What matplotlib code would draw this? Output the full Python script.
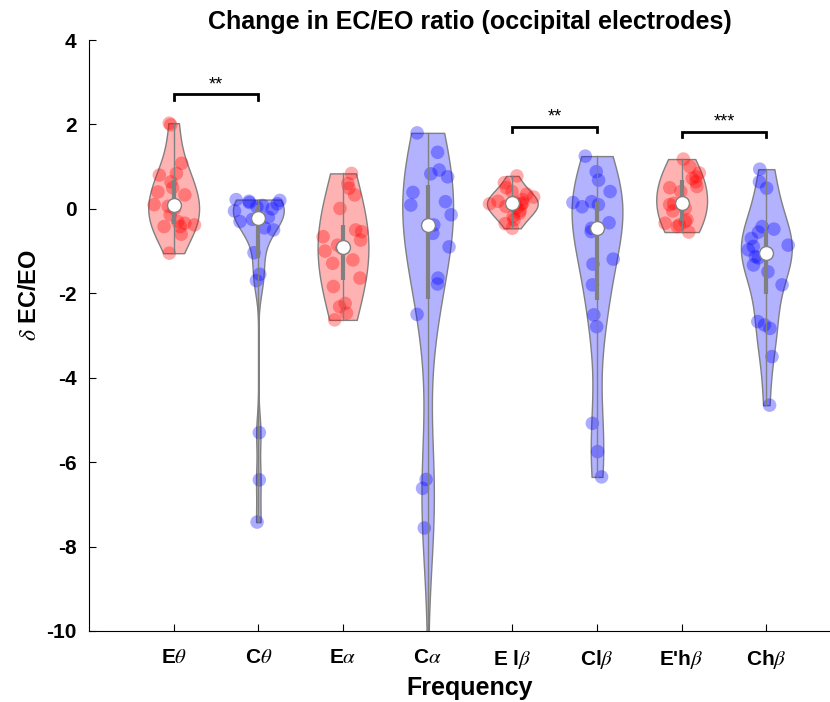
import numpy as np
import matplotlib
matplotlib.use("Agg")
import matplotlib.pyplot as plt

plt.rcParams['font.family'] = ['Liberation Sans', 'DejaVu Sans']
plt.rcParams['mathtext.fontset'] = 'stix'

# ---- data ----
labels = ["E$\\theta$", "C$\\theta$", "E$\\alpha$", "C$\\alpha$",
          "E l$\\beta$", "Cl$\\beta$", "E'h$\\beta$", "Ch$\\beta$"]
e_theta = [2.03, 1.99, 1.08, 0.84, 0.80, 0.64, 0.5, 0.4, 0.33, 0.1, 0.06, 0.0,
           -0.14, -0.30, -0.34, -0.38, -0.42, -0.42, -0.6, -1.05]
c_theta = [0.22, 0.2, 0.18, 0.15, 0.12, 0.08, 0.05, 0.0, -0.05, -0.2, -0.25,
           -0.3, -0.45, -0.5, -1.04, -1.55, -1.7, -5.3, -6.42, -7.42]
e_alpha = [0.84, 0.6, 0.49, 0.33, 0.01, -0.5, -0.54, -0.66, -0.74, -0.86, -0.93,
           -1.0, -1.21, -1.29, -1.64, -1.84, -2.24, -2.32, -2.47, -2.63]
c_alpha = [1.8, 1.34, 0.92, 0.83, 0.76, 0.39, 0.17, 0.09, -0.14, -0.38, -0.58,
           -0.9, -1.64, -1.78, -2.5, -6.41, -6.62, -7.56, -13.5]
el_beta = [0.78, 0.62, 0.5, 0.41, 0.35, 0.28, 0.22, 0.18, 0.15, 0.14, 0.12, 0.1,
           0.06, 0.02, -0.04, -0.1, -0.18, -0.26, -0.35, -0.46]
cl_beta = [1.25, 0.88, 0.68, 0.41, 0.17, 0.15, 0.1, 0.05, -0.33, -0.46, -0.54,
           -1.19, -1.31, -1.80, -2.51, -2.79, -5.08, -5.75, -6.35]
eh_beta = [1.18, 1.0, 0.85, 0.76, 0.72, 0.64, 0.53, 0.5, 0.41, 0.13, 0.1, 0.01,
           -0.05, -0.26, -0.30, -0.34, -0.38, -0.42, -0.55]
ch_beta = [0.94, 0.64, 0.49, -0.42, -0.48, -0.55, -0.70, -0.86, -0.89, -0.97,
           -1.13, -1.16, -1.33, -1.49, -1.80, -2.67, -2.75, -2.83, -3.50, -4.65]
groups = [e_theta, c_theta, e_alpha, c_alpha, el_beta, cl_beta, eh_beta, ch_beta]
group_colors = ['red', 'blue', 'red', 'blue', 'red', 'blue', 'red', 'blue']
sig_pairs = [(1, 2), (5, 6), (7, 8)]
sig_levels = [2.71, 1.95, 1.83]
sig_text = ['**', '**', '***']

positions = np.arange(1, len(groups) + 1)
half_w = 0.3

fig = plt.figure(figsize=(8.30, 7.02), dpi=100)
ax = fig.add_axes([89/830, 71/702, 762/830, 591/702])


def silverman_factor(kde):
    x = np.asarray(kde.dataset).ravel()
    n = len(x)
    sig = np.median(np.abs(x - np.median(x))) / 0.6745
    h = 1.4 * sig * (4.0 / (3.0 * n)) ** 0.2
    return h / np.std(x, ddof=1)


parts = ax.violinplot(groups, positions=positions, widths=2*half_w,
                      showextrema=False, showmedians=False,
                      bw_method=silverman_factor, points=300)
for body, c in zip(parts['bodies'], group_colors):
    body.set_alpha(None)
    body.set_facecolor(matplotlib.colors.to_rgba(c, 0.3))
    body.set_edgecolor((0.5, 0.5, 0.5, 1))
    body.set_linewidth(1.0)
    body.set_zorder(1)

rng = np.random.default_rng(3)
for pos, d, c, body in zip(positions, groups, group_colors, parts['bodies']):
    d = np.asarray(d, float)
    verts = body.get_paths()[0].vertices
    right = verts[verts[:, 0] >= pos - 1e-9]
    order = np.argsort(right[:, 1])
    yy, xx = right[order, 1], right[order, 0] - pos
    hw = np.interp(d, yy, xx)
    jit = (rng.random(len(d)) * 2 - 1) * hw
    ax.scatter(pos + jit, d, s=95, color=c, alpha=0.33, edgecolors='none',
               zorder=2, clip_on=True)
    q1, med, q3 = np.percentile(d, [25, 50, 75])
    ax.plot([pos, pos], [d.min(), d.max()], color=(0.5, 0.5, 0.5), lw=1.0, zorder=3)
    ax.plot([pos, pos], [q1, q3], color=(0.5, 0.5, 0.5), lw=3.0, zorder=3,
            solid_capstyle='butt')
    ax.scatter([pos], [med], s=100, facecolor='white', edgecolor=(0.5, 0.5, 0.5),
               linewidth=1.0, zorder=4)

for (a, b), lv, t in zip(sig_pairs, sig_levels, sig_text):
    ax.plot([a, a, b, b], [lv - 0.13, lv, lv, lv - 0.13], color='black', lw=2.0,
            zorder=5, solid_joinstyle='miter')
    ax.text((a + b) / 2, lv + 0.02, t, ha='center', va='bottom', fontsize=13,
            color='black')

ax.set_xlim(0, 9)
ax.set_ylim(-10, 4)
ax.set_xticks(positions)
ax.set_xticklabels(labels, fontsize=15, fontweight='bold')
ax.set_yticks(np.arange(-10, 5, 2))
ax.set_yticklabels([str(v) for v in range(-10, 5, 2)], fontsize=15, fontweight='bold')
ax.tick_params(direction='in', length=5, width=0.8)
ax.tick_params(axis='y', pad=9)
ax.tick_params(axis='x', pad=12)
for s in ['top', 'right']:
    ax.spines[s].set_visible(False)
for s in ['left', 'bottom']:
    ax.spines[s].set_linewidth(0.8)

ax.set_title('Change in EC/EO ratio (occipital electrodes)', fontsize=18,
             fontweight='bold', pad=8)
ax.set_xlabel('Frequency', fontsize=18, fontweight='bold', labelpad=4)
fig.text(30/830, 1 - 295/702, '$\\delta$ EC/EO', rotation=90, fontsize=17,
         fontweight='bold', ha='center', va='center')

fig.savefig('out.png', dpi=100)
